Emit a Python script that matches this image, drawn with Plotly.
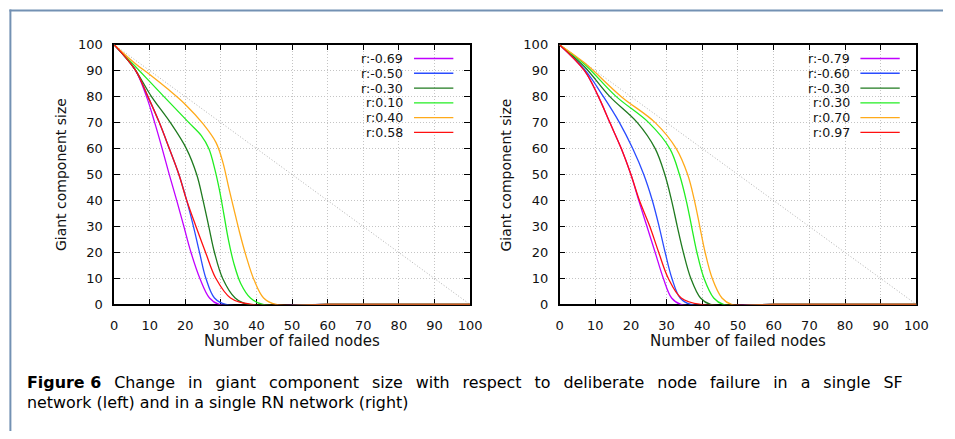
import plotly.graph_objects as go

# ---------------- data ----------------
x_ticks = [0, 10, 20, 30, 40, 50, 60, 70, 80, 90, 100]
y_ticks = [0, 10, 20, 30, 40, 50, 60, 70, 80, 90, 100]
diag_x = [0, 100]
diag_y = [100, 0]

# Left panel: single SF network
sf_labels = ["r:-0.69", "r:-0.50", "r:-0.30", "r:0.10", "r:0.40", "r:0.58"]
sf_purple_x = [0, 5.9, 9.1, 11.4, 13.5, 15.5, 17.6, 19.6, 21.6, 24.1, 26.8, 29.5, 60, 100]
sf_purple_y = [100, 90.4, 80, 70, 60, 50, 40, 30, 20, 10, 2.5, 0, 0, 0]
sf_blue_x = [0, 5.9, 9.5, 12.7, 15.5, 18.2, 20.4, 22.3, 24.0, 25.8, 28.2, 31.4, 60, 100]
sf_blue_y = [100, 90.4, 80, 70, 60, 50, 40, 30, 20, 10, 2.5, 0, 0, 0]
sf_dgreen_x = [0, 5.6, 10.5, 15.8, 20.3, 23.2, 25.0, 26.6, 28.2, 30.5, 34.0, 37.7, 60, 100]
sf_dgreen_y = [100, 91, 80, 70, 60, 50, 40, 30, 20, 10, 2.5, 0, 0, 0]
sf_green_x = [0, 5.9, 14.0, 21.0, 24.5, 26.6, 28.3, 29.6, 30.8, 32.1, 33.6, 35.6, 38.3, 41.8, 60, 100]
sf_green_y = [100, 91.7, 80, 70, 65, 60, 52, 44, 35, 25, 16, 8, 2.5, 0, 0, 0]
sf_orange_x = [0, 5.9, 10, 15, 20, 25, 28.6, 30.5, 32.2, 33.6, 35.2, 37.0, 39.3, 42.0, 45.5, 60, 100]
sf_orange_y = [100, 92.8, 88.5, 83, 77, 69.5, 62.4, 55, 45, 37, 28, 19, 9.5, 2.5, 0, 0, 0]
sf_red_x = [0, 5.9, 9.5, 12.7, 15.5, 18.2, 20.4, 23.0, 25.7, 28.6, 32.7, 38.6, 60, 100]
sf_red_y = [100, 90.4, 80, 70, 60, 50, 40, 30, 20, 10, 2.5, 0, 0, 0]

# Right panel: single RN network
rn_labels = ["r:-0.79", "r:-0.60", "r:-0.30", "r:0.30", "r:0.70", "r:0.97"]
rn_purple_x = [0, 7.0, 10.9, 14.1, 17.3, 20.0, 22.2, 24.5, 26.8, 29.1, 31.4, 34.0, 60, 100]
rn_purple_y = [100, 90, 80, 70, 60, 50, 40, 30, 20, 10, 2.5, 0, 0, 0]
rn_blue_x = [0, 7.0, 12.3, 16.8, 20.5, 23.6, 26.0, 27.9, 29.6, 31.5, 33.8, 36.8, 60, 100]
rn_blue_y = [100, 90.5, 80, 70, 60, 50, 40, 30, 20, 10, 2.5, 0, 0, 0]
rn_dgreen_x = [0, 7.0, 14.1, 21.8, 26.8, 29.5, 31.4, 33.0, 34.7, 36.8, 39.5, 42.3, 60, 100]
rn_dgreen_y = [100, 91.5, 80, 70, 60, 50, 40, 30, 20, 10, 2.5, 0, 0, 0]
rn_green_x = [0, 7.0, 15.9, 25.0, 30.9, 33.6, 35.5, 37.0, 38.5, 40.5, 43.2, 45.9, 60, 100]
rn_green_y = [100, 92.5, 80, 70, 60, 50, 40, 30, 20, 10, 2.5, 0, 0, 0]
rn_orange_x = [0, 7.0, 17.3, 26.8, 32.7, 35.9, 37.8, 39.3, 40.8, 42.8, 45.5, 48.2, 60, 100]
rn_orange_y = [100, 93, 80, 70, 60, 50, 40, 30, 20, 10, 2.5, 0, 0, 0]
rn_red_x = [0, 7.0, 10.9, 14.1, 17.3, 20.0, 22.4, 25.3, 27.8, 30.5, 34.1, 39.5, 60, 100]
rn_red_y = [100, 90, 80, 70, 60, 50, 40, 30, 20, 10, 2.5, 0, 0, 0]

colors = ["#c000ff", "#2a4cff", "#1f7a1f", "#22ee22", "#ffaa1a", "#ff1010"]

caption_bold = "Figure 6"
caption_line1 = "Change in giant component size with respect to deliberate node failure in a single SF"
caption_line2 = "network (left) and in a single RN network (right)"
x_title = "Number of failed nodes"
y_title = "Giant component size"

# ---------------- figure ----------------
W, H = 955, 439
FONT = "DejaVu Sans"
fig = go.Figure()

def px_x(p):
    return p / W

def px_y(p):
    return 1 - p / H

panels = [
    ("x", "y", [(sf_purple_x, sf_purple_y), (sf_blue_x, sf_blue_y), (sf_dgreen_x, sf_dgreen_y),
                (sf_green_x, sf_green_y), (sf_orange_x, sf_orange_y), (sf_red_x, sf_red_y)], sf_labels),
    ("x2", "y2", [(rn_purple_x, rn_purple_y), (rn_blue_x, rn_blue_y), (rn_dgreen_x, rn_dgreen_y),
                  (rn_green_x, rn_green_y), (rn_orange_x, rn_orange_y), (rn_red_x, rn_red_y)], rn_labels),
]
plot_top, plot_bot = 39, 308

for xa, ya, series, labels in panels:
    fig.add_trace(go.Scatter(x=diag_x, y=diag_y, mode="lines", xaxis=xa, yaxis=ya,
                             line=dict(color="#b0b0b0", width=1, dash="1px,2px"),
                             showlegend=False, hoverinfo="skip"))
    for (sx, sy), lab, col in zip(series, labels, colors):
        fig.add_trace(go.Scatter(x=sx, y=sy, mode="lines", name=lab, xaxis=xa, yaxis=ya,
                                 line=dict(color=col, width=1.3, shape="spline", smoothing=1.0),
                                 showlegend=False))

axis_common = dict(
    range=[0, 100], tickvals=x_ticks, ticks="inside", ticklen=6, tickwidth=1,
    tickcolor="black", showline=True, linecolor="black", linewidth=1.5, mirror="ticks",
    showgrid=True, gridcolor="#c4c4c4", gridwidth=1, griddash="1px,2px", zeroline=False,
    tickfont=dict(family=FONT, size=13, color="#111111"),
    layer="below traces", fixedrange=True,
)

fig.update_layout(
    width=W, height=H, margin=dict(l=0, r=0, t=0, b=0),
    paper_bgcolor="white", plot_bgcolor="white", showlegend=False,
    xaxis=dict(axis_common, domain=[px_x(112), px_x(474)], anchor="y", ticklabelstandoff=8),
    yaxis=dict(axis_common, tickvals=y_ticks, domain=[px_y(plot_bot), px_y(plot_top)], anchor="x",
               ticklabelstandoff=7),
    xaxis2=dict(axis_common, domain=[px_x(565), px_x(928)], anchor="y2", ticklabelstandoff=8),
    yaxis2=dict(axis_common, tickvals=y_ticks, domain=[px_y(plot_bot), px_y(plot_top)], anchor="x2",
                ticklabelstandoff=7),
)

annotations = []
shapes = []
# axis titles
for cx, ycx in [(293, 58), (746, 511)]:
    annotations.append(dict(text=x_title, x=px_x(cx), y=px_y(346), xref="paper", yref="paper",
                            showarrow=False, font=dict(family=FONT, size=15, color="#111111"),
                            xanchor="center", yanchor="middle"))
    annotations.append(dict(text=y_title, x=px_x(ycx), y=px_y(174), xref="paper", yref="paper",
                            showarrow=False, font=dict(family=FONT, size=14, color="#111111"),
                            textangle=-90, xanchor="center", yanchor="middle"))

# keys (gnuplot style: label then sample line)
key_font = dict(family=FONT, size=12.6, color="#111111")
for labels, lab_right, l0, l1 in [(sf_labels, 407, 417, 457), (rn_labels, 861, 871, 911)]:
    for i, (lab, col) in enumerate(zip(labels, colors)):
        yc = 53.3 + i * 15.3
        annotations.append(dict(text=lab, x=px_x(lab_right), y=px_y(yc), xref="paper", yref="paper",
                                showarrow=False, font=key_font, xanchor="right", yanchor="middle",
                                borderpad=0))
        shapes.append(dict(type="line", xref="paper", yref="paper",
                           x0=px_x(l0), x1=px_x(l1), y0=px_y(yc), y1=px_y(yc),
                           line=dict(color=col, width=1.3)))

# caption (first line justified to the full width, as in the typeset original)
jsp = " \u2002"
cap_font = dict(family=FONT, size=15.9, color="black")
line1_text = "<b>" + caption_bold + "</b>" + jsp + caption_line1.replace(" ", jsp)
annotations.append(dict(text=line1_text, x=px_x(21), y=px_y(389),
                        xref="paper", yref="paper", showarrow=False, font=cap_font,
                        xanchor="left", yanchor="middle"))
annotations.append(dict(text=caption_line2, x=px_x(21), y=px_y(409),
                        xref="paper", yref="paper", showarrow=False, font=cap_font,
                        xanchor="left", yanchor="middle"))

# page frame (top and left rules)
frame_col = "#7391b3"
shapes.append(dict(type="line", xref="paper", yref="paper", x0=px_x(5.5), x1=1.0,
                   y0=px_y(3.5), y1=px_y(3.5), line=dict(color=frame_col, width=2)))
shapes.append(dict(type="line", xref="paper", yref="paper", x0=px_x(6.5), x1=px_x(6.5),
                   y0=px_y(2.5), y1=0.0, line=dict(color=frame_col, width=2)))

fig.update_layout(annotations=annotations, shapes=shapes)
fig.write_html("out.html", config={"displayModeBar": False},
               post_script="document.body.style.margin='0';document.body.style.overflow='hidden';")
